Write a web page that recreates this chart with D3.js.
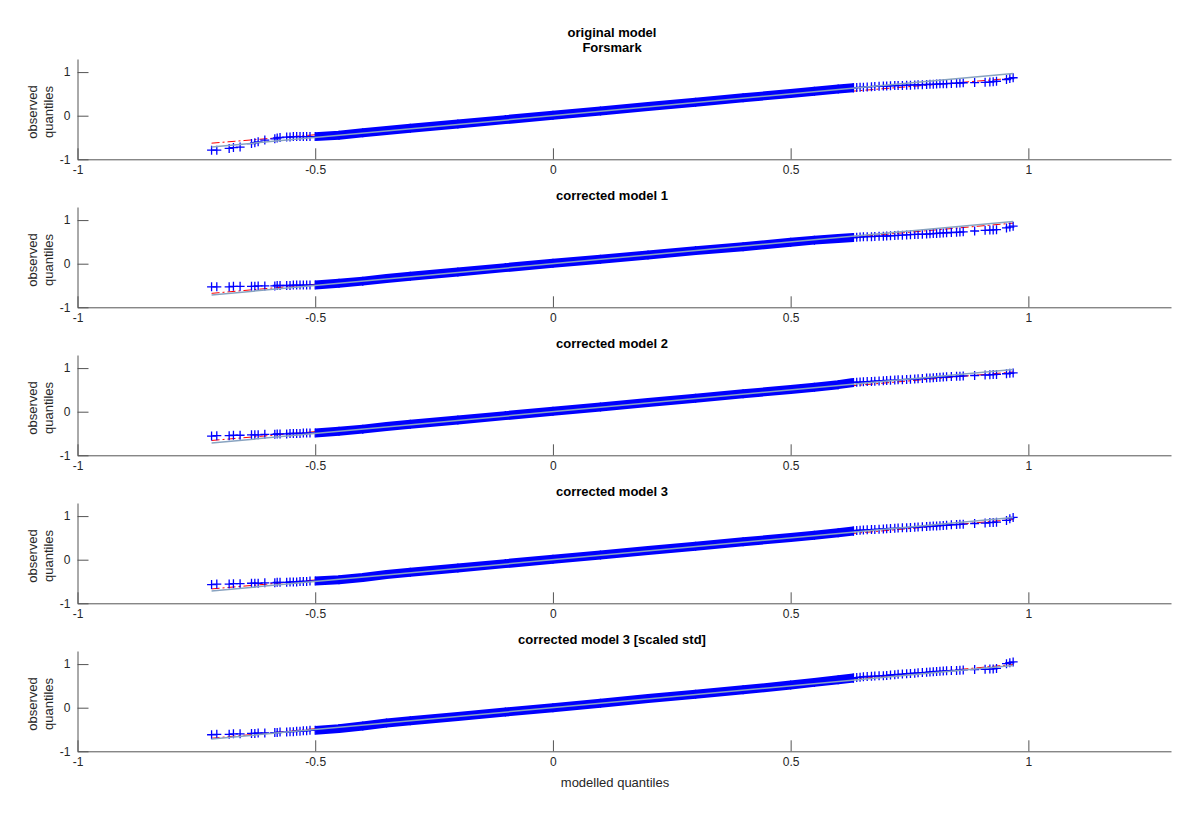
<!DOCTYPE html>
<html>
<head>
<meta charset="utf-8">
<script src="https://cdn.jsdelivr.net/npm/d3@7"></script>
<style>
  body { margin: 0; background: #fff; }
  text { font-family: "Liberation Sans", Arial, Helvetica, sans-serif; }
</style>
</head>
<body>
<div id="chart"></div>
<script>
// panel titles (one array of lines per panel)
const panelTitles = [
  ["original model", "Forsmark"],
  ["corrected model 1"],
  ["corrected model 2"],
  ["corrected model 3"],
  ["corrected model 3 [scaled std]"]
];

const xTicks = [-1, -0.5, 0, 0.5, 1];
const yTicks = [-1, 0, 1];
const xDomain = [-1, 1.3];
const yDomain = [-1, 1.3];

// modelled quantiles: sparse lower tail, dense middle, sparse upper tail
const lowTailX = [-0.718, -0.707, -0.681, -0.672, -0.658, -0.634, -0.627, -0.620, -0.606, -0.585,
  -0.580, -0.574, -0.560, -0.553, -0.546, -0.539, -0.532, -0.525, -0.518, -0.511];
const bandX = [-0.50, -0.45, -0.40, -0.35, -0.30, -0.20, -0.10, 0.00, 0.10, 0.20, 0.30, 0.40, 0.50, 0.55, 0.60, 0.632];
const highTailX = [0.632, 0.639, 0.646, 0.653, 0.661, 0.670, 0.677, 0.686, 0.695, 0.702,
  0.710, 0.719, 0.726, 0.735, 0.744, 0.752, 0.761, 0.768, 0.777, 0.786,
  0.793, 0.800, 0.807, 0.814, 0.821, 0.828, 0.838, 0.849, 0.856, 0.863,
  0.887, 0.909, 0.919, 0.926, 0.933, 0.954, 0.961, 0.968];

// observed quantiles per panel
const lowTailObs = [
  [-0.79, -0.79, -0.75, -0.73, -0.72, -0.64, -0.62, -0.60, -0.56, -0.53, -0.51, -0.50, -0.49, -0.49, -0.48, -0.48, -0.48, -0.48, -0.48, -0.48],
  [-0.53, -0.53, -0.53, -0.52, -0.52, -0.52, -0.52, -0.51, -0.51, -0.51, -0.50, -0.50, -0.50, -0.50, -0.49, -0.49, -0.49, -0.49, -0.49, -0.49],
  [-0.56, -0.55, -0.55, -0.54, -0.54, -0.53, -0.53, -0.53, -0.52, -0.52, -0.51, -0.51, -0.51, -0.50, -0.50, -0.50, -0.50, -0.49, -0.49, -0.49],
  [-0.57, -0.56, -0.56, -0.55, -0.55, -0.54, -0.54, -0.54, -0.53, -0.53, -0.52, -0.52, -0.52, -0.51, -0.51, -0.51, -0.50, -0.50, -0.50, -0.49],
  [-0.62, -0.61, -0.61, -0.60, -0.60, -0.59, -0.59, -0.58, -0.58, -0.57, -0.57, -0.56, -0.56, -0.55, -0.55, -0.54, -0.54, -0.53, -0.53, -0.52]
];
const bandObs = [
  [-0.48, -0.45, -0.39, -0.34, -0.29, -0.19, -0.09, 0.01, 0.11, 0.21, 0.31, 0.41, 0.51, 0.56, 0.61, 0.64],
  [-0.49, -0.45, -0.40, -0.34, -0.29, -0.19, -0.09, 0.01, 0.10, 0.20, 0.30, 0.39, 0.49, 0.54, 0.58, 0.60],
  [-0.49, -0.45, -0.40, -0.34, -0.29, -0.19, -0.09, 0.01, 0.11, 0.21, 0.31, 0.41, 0.51, 0.56, 0.62, 0.67],
  [-0.49, -0.46, -0.41, -0.34, -0.29, -0.19, -0.09, 0.01, 0.11, 0.21, 0.31, 0.41, 0.51, 0.56, 0.62, 0.66],
  [-0.52, -0.48, -0.42, -0.35, -0.30, -0.20, -0.10, 0.00, 0.10, 0.21, 0.31, 0.41, 0.52, 0.58, 0.64, 0.68]
];
const highTailObs = [
  [0.64, 0.645, 0.65, 0.655, 0.66, 0.665, 0.67, 0.675, 0.68, 0.68, 0.685, 0.69, 0.69, 0.695, 0.70, 0.70, 0.705, 0.71, 0.71, 0.715,
   0.72, 0.72, 0.725, 0.73, 0.73, 0.735, 0.74, 0.745, 0.75, 0.755, 0.76, 0.765, 0.77, 0.78, 0.79, 0.83, 0.85, 0.87],
  [0.60, 0.605, 0.61, 0.615, 0.62, 0.62, 0.625, 0.63, 0.63, 0.635, 0.64, 0.645, 0.65, 0.655, 0.66, 0.665, 0.67, 0.67, 0.675, 0.68,
   0.685, 0.69, 0.695, 0.70, 0.705, 0.71, 0.715, 0.72, 0.725, 0.73, 0.75, 0.765, 0.77, 0.775, 0.78, 0.82, 0.84, 0.86],
  [0.67, 0.675, 0.68, 0.685, 0.69, 0.695, 0.70, 0.705, 0.71, 0.715, 0.72, 0.725, 0.73, 0.735, 0.74, 0.745, 0.75, 0.755, 0.76, 0.77,
   0.775, 0.78, 0.785, 0.79, 0.795, 0.80, 0.805, 0.81, 0.815, 0.82, 0.83, 0.84, 0.845, 0.85, 0.855, 0.87, 0.88, 0.89],
  [0.66, 0.67, 0.675, 0.68, 0.685, 0.69, 0.695, 0.70, 0.705, 0.71, 0.715, 0.72, 0.725, 0.73, 0.735, 0.74, 0.745, 0.75, 0.755, 0.76,
   0.765, 0.77, 0.775, 0.78, 0.785, 0.79, 0.80, 0.805, 0.81, 0.815, 0.83, 0.84, 0.85, 0.855, 0.86, 0.90, 0.94, 0.97],
  [0.68, 0.69, 0.70, 0.71, 0.715, 0.72, 0.725, 0.73, 0.735, 0.74, 0.75, 0.755, 0.765, 0.77, 0.78, 0.785, 0.79, 0.80, 0.805, 0.81,
   0.82, 0.825, 0.83, 0.835, 0.84, 0.845, 0.85, 0.855, 0.86, 0.865, 0.875, 0.88, 0.885, 0.89, 0.90, 1.01, 1.03, 1.05]
];

// reference lines: y = x over the modelled range, and the quartile fit (red dash-dot)
const refRange = [-0.718, 0.968];
const fitLow = [-0.63, -0.68, -0.66, -0.67, -0.70];
const fitHigh = [0.86, 0.93, 0.91, 0.92, 0.99];

const width = 1200, height = 817;
const plotLeft = 77.5, plotRight = 1171;
const firstTop = 59, panelH = 100.3, panelStep = 148;
const textColor = "#262626", axisColor = "#555";

const svg = d3.select("#chart")
  .append("svg")
  .attr("width", width)
  .attr("height", height);

const x = d3.scaleLinear().domain(xDomain).range([plotLeft, plotRight]);

panelTitles.forEach((title, i) => {
  const top = firstTop + i * panelStep;
  const y = d3.scaleLinear().domain(yDomain).range([top + panelH, top]);
  const g = svg.append("g");

  const xAxis = d3.axisBottom(x).tickValues(xTicks).tickSizeInner(-11).tickSizeOuter(0)
    .tickPadding(6).tickFormat(d => String(d));
  const yAxis = d3.axisLeft(y).tickValues(yTicks).tickSizeInner(-11).tickSizeOuter(0)
    .tickPadding(7).tickFormat(d => String(d));

  [g.append("g").attr("transform", `translate(0,${top + panelH})`).call(xAxis),
   g.append("g").attr("transform", `translate(${plotLeft},0)`).call(yAxis)]
    .forEach(a => {
      a.attr("font-family", null).attr("font-size", 12);
      a.selectAll("path, line").attr("stroke", axisColor).attr("stroke-width", 1);
      a.selectAll("text").attr("fill", textColor);
    });

  // quartile fit sits under the markers
  g.append("line")
    .attr("x1", x(refRange[0])).attr("y1", y(fitLow[i]))
    .attr("x2", x(refRange[1])).attr("y2", y(fitHigh[i]))
    .attr("stroke", "#ff0000")
    .attr("stroke-width", 1)
    .attr("stroke-dasharray", "8,3,2,3");

  // dense part of the quantiles as a thick band
  const band = bandX.map((v, j) => [v, bandObs[i][j]]);
  g.append("path")
    .datum(band)
    .attr("fill", "none")
    .attr("stroke", "#0000ff")
    .attr("stroke-width", 9)
    .attr("stroke-linejoin", "round")
    .attr("d", d3.line().x(d => x(d[0])).y(d => y(d[1])));

  const pts = lowTailX.map((v, j) => [v, lowTailObs[i][j]])
    .concat(band)
    .concat(highTailX.map((v, j) => [v, highTailObs[i][j]]));

  g.selectAll(".mk")
    .data(pts)
    .enter()
    .append("path")
    .attr("class", "mk")
    .attr("transform", d => `translate(${x(d[0])},${y(d[1])})`)
    .attr("d", "M-4.5,0H4.5M0,-4.5V4.5")
    .attr("stroke", "#0000ff")
    .attr("stroke-width", 1.3)
    .attr("fill", "none");

  g.append("line")
    .attr("x1", x(refRange[0])).attr("y1", y(refRange[0]))
    .attr("x2", x(refRange[1])).attr("y2", y(refRange[1]))
    .attr("stroke", "#88a3c0")
    .attr("stroke-width", 1.5);

  // title
  title.forEach((line, k) => {
    g.append("text")
      .attr("x", 612)
      .attr("y", top - 7 - (title.length - 1 - k) * 15)
      .attr("text-anchor", "middle")
      .attr("font-size", 13)
      .attr("font-weight", "bold")
      .attr("fill", "#000")
      .text(line);
  });

  // y label
  const yl = g.append("text")
    .attr("transform", `translate(36.5,${top + 53}) rotate(-90)`)
    .attr("text-anchor", "middle")
    .attr("font-size", 13)
    .attr("fill", textColor);
  yl.append("tspan").attr("x", 0).attr("y", 0).text("observed");
  yl.append("tspan").attr("x", 0).attr("y", 16).text("quantiles");
});

svg.append("text")
  .attr("x", 615)
  .attr("y", 787)
  .attr("text-anchor", "middle")
  .attr("font-size", 13)
  .attr("fill", textColor)
  .text("modelled quantiles");
</script>
</body>
</html>
